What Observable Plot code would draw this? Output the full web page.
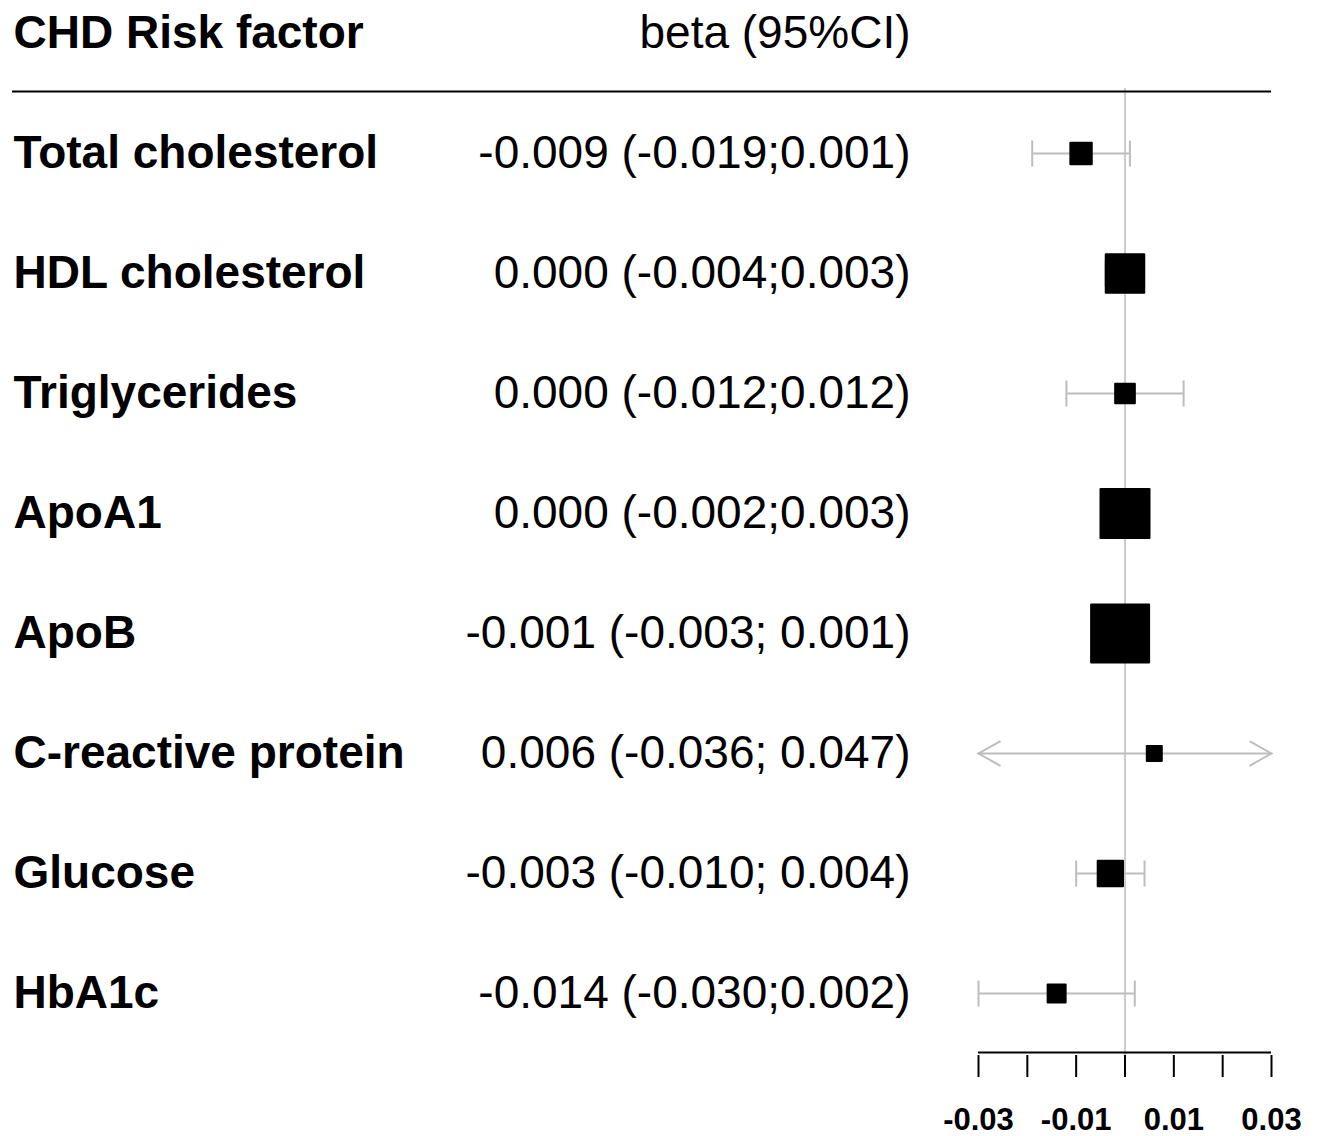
<!DOCTYPE html>
<html>
<head>
<meta charset="utf-8">
<script src="https://cdn.jsdelivr.net/npm/d3@7"></script>
<script src="https://cdn.jsdelivr.net/npm/@observablehq/plot@0.6"></script>
<style>
  html, body { margin: 0; padding: 0; background: #fff; }
</style>
</head>
<body>
<div id="chart"></div>
<script>
// ---- Data ----
const headerLabel = "CHD Risk factor";
const headerCI = "beta (95%CI)";
const factors = ["Total cholesterol", "HDL cholesterol", "Triglycerides", "ApoA1", "ApoB", "C-reactive protein", "Glucose", "HbA1c"];
const beta  = [-0.009, 0.000, 0.000, 0.000, -0.001, 0.006, -0.003, -0.014];
const lower = [-0.019, -0.004, -0.012, -0.002, -0.003, -0.036, -0.010, -0.030];
const upper = [0.001, 0.003, 0.012, 0.003, 0.001, 0.047, 0.004, 0.002];
const ciText = ["-0.009 (-0.019;0.001)", "0.000 (-0.004;0.003)", "0.000 (-0.012;0.012)", "0.000 (-0.002;0.003)", "-0.001 (-0.003; 0.001)", "0.006 (-0.036; 0.047)", "-0.003 (-0.010; 0.004)", "-0.014 (-0.030;0.002)"];
const boxWeight = [23.4, 40.5, 21.7, 51, 60, 17, 27.3, 20];
const xTicks = [-0.03, -0.02, -0.01, 0, 0.01, 0.02, 0.03];
const xTickLabels = ["-0.03", "", "-0.01", "", "0.01", "", "0.03"];

const rows = factors.map((f, i) => ({factor: f, beta: beta[i], lower: lower[i], upper: upper[i], ci: ciText[i], w: boxWeight[i]}));
const xMin = xTicks[0], xMax = xTicks[xTicks.length - 1];

const ciColor = "#bdbdbd";
const zeroColor = "#cccccc";

// custom symbols: whisker cap and open arrow heads
const capSymbol = {draw(ctx, size) { const r = Math.sqrt(size / Math.PI); ctx.moveTo(0, -r); ctx.lineTo(0, r); }};
const arrowLeft = {draw(ctx, size) { const r = Math.sqrt(size / Math.PI); ctx.moveTo(2 * r, -1.12 * r); ctx.lineTo(0, 0); ctx.lineTo(2 * r, 1.12 * r); }};
const arrowRight = {draw(ctx, size) { const r = Math.sqrt(size / Math.PI); ctx.moveTo(-2 * r, -1.12 * r); ctx.lineTo(0, 0); ctx.lineTo(-2 * r, 1.12 * r); }};

const chart = Plot.plot({
  width: 1321,
  height: 1136,
  marginLeft: 978,
  marginRight: 50,
  marginTop: 88,
  marginBottom: 81,
  style: {fontFamily: "'Liberation Sans', Arial, Helvetica, sans-serif", background: "#fff", color: "#000"},
  x: {domain: [xMin, xMax], clamp: true, label: null},
  y: {type: "point", domain: [headerLabel, ...factors], range: [30, 996], padding: 0, axis: null},
  r: {type: "linear", domain: [2, 60], range: [0, 58 / Math.sqrt(Math.PI)]},
  marks: [
    // zero reference line
    Plot.ruleX([0], {stroke: zeroColor, strokeWidth: 2}),
    // header separator line
    Plot.ruleY([headerLabel], {y: d => d, dy: 58, insetLeft: -966, stroke: "#000", strokeWidth: 2}),
    // axis baseline
    Plot.ruleY([factors[factors.length - 1]], {y: d => d, dy: 59, stroke: "#000", strokeWidth: 2}),
    // confidence intervals
    Plot.ruleY(rows, {y: "factor", x1: "lower", x2: "upper", stroke: ciColor, strokeWidth: 2}),
    Plot.dot(rows.filter(d => d.lower >= xMin), {x: "lower", y: "factor", r: 13, symbol: capSymbol, fill: "none", stroke: ciColor, strokeWidth: 2}),
    Plot.dot(rows.filter(d => d.upper <= xMax), {x: "upper", y: "factor", r: 13, symbol: capSymbol, fill: "none", stroke: ciColor, strokeWidth: 2}),
    // arrows for clipped intervals
    Plot.dot(rows.filter(d => d.lower < xMin), {x: "lower", y: "factor", r: 11, symbol: arrowLeft, fill: "none", stroke: ciColor, strokeWidth: 2}),
    Plot.dot(rows.filter(d => d.upper > xMax), {x: "upper", y: "factor", r: 11, symbol: arrowRight, fill: "none", stroke: ciColor, strokeWidth: 2}),
    // point estimates
    Plot.dot(rows, {x: "beta", y: "factor", r: "w", symbol: "square", fill: "#000", stroke: "#000", strokeWidth: 2, strokeLinejoin: "round"}),
    // header texts
    Plot.text([headerLabel], {y: d => d, text: d => d, frameAnchor: "left", textAnchor: "start", dx: -965, fontSize: 46, fontWeight: "bold", fill: "#000"}),
    Plot.text([headerLabel], {y: d => d, text: () => headerCI, frameAnchor: "left", textAnchor: "end", dx: -68, fontSize: 46, fill: "#000"}),
    // row texts
    Plot.text(rows, {y: "factor", text: "factor", frameAnchor: "left", textAnchor: "start", dx: -965, fontSize: 46, fontWeight: "bold", fill: "#000"}),
    Plot.text(rows, {y: "factor", text: "ci", frameAnchor: "left", textAnchor: "end", dx: -68, fontSize: 46, fill: "#000"}),
    // x axis
    Plot.axisX({ticks: xTicks, anchor: "bottom", tickSize: 22, tickPadding: 30, strokeWidth: 2, tickFormat: d => xTickLabels[xTicks.indexOf(d)], fontSize: 31, fontWeight: "bold", label: null})
  ]
});
document.getElementById("chart").appendChild(chart);
</script>
</body>
</html>
